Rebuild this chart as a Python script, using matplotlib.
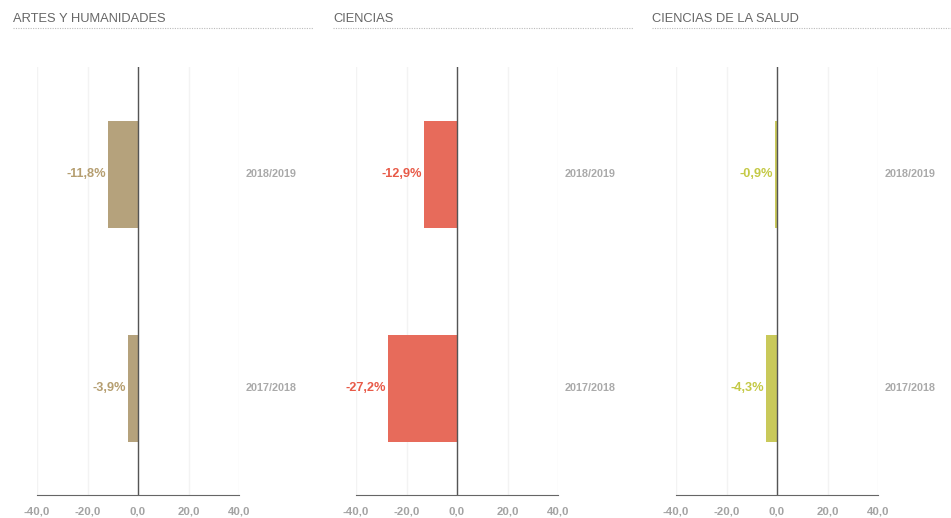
import matplotlib.pyplot as plt
from matplotlib.lines import Line2D

titles = ['ARTES Y HUMANIDADES', 'CIENCIAS', 'CIENCIAS DE LA SALUD']
cursos = ['2017/2018', '2018/2019']
valores = [[-3.9, -11.8], [-27.2, -12.9], [-4.3, -0.9]]
colores = ['#b5a27c', '#e76b5b', '#c9c95a']
col_txt = ['#b59e70', '#e85a48', '#c4c945']

W, H = 951, 518
fig = plt.figure(figsize=(W / 100, H / 100), dpi=100)
plt.rcParams['font.family'] = ['Liberation Sans', 'DejaVu Sans']

lefts = [37, 356, 676]
title_x = [13, 333, 652]
for i in range(3):
    ax = fig.add_axes([lefts[i] / W, 1 - 495 / H, 202 / W, 428 / H])
    ax.barh(range(len(cursos)), valores[i], height=0.5, color=colores[i])
    ax.set_xlim(-40, 40)
    ax.set_ylim(-0.5, 1.5)
    ax.set_xticks([-40, -20, 0, 20, 40])
    ax.set_xticklabels(['-40,0', '-20,0', '0,0', '20,0', '40,0'])
    ax.tick_params(axis='x', length=0, pad=8, labelsize=8.2, labelcolor='#a3a3a3')
    for lb in ax.get_xticklabels():
        lb.set_fontweight('bold')
    ax.set_yticks([])
    for s in ['top', 'right', 'left']:
        ax.spines[s].set_visible(False)
    ax.spines['bottom'].set_color('#666666')
    ax.grid(axis='x', color='#f3f3f3', lw=1)
    ax.set_axisbelow(True)
    ax.axvline(0, color='#555555', lw=1)
    for j, v in enumerate(valores[i]):
        ax.text(v - 0.8, j, ('%.1f%%' % v).replace('.', ','), ha='right', va='center',
                fontsize=9.2, fontweight='bold', color=col_txt[i])
        ax.text(42.5, j, cursos[j], ha='left', va='center', fontsize=7.8,
                fontweight='bold', color='#aaaaaa', clip_on=False)
    fig.text(title_x[i] / W, 1 - 19.5 / H, titles[i], ha='left', va='center',
             fontsize=9.3, color='#666666')
    fig.add_artist(Line2D([title_x[i] / W, (title_x[i] + 300) / W],
                          [1 - 27.5 / H, 1 - 27.5 / H], transform=fig.transFigure,
                          color='#bbbbbb', lw=0.8, ls=(0, (1, 1.2))))

fig.savefig('out.png', dpi=100)
